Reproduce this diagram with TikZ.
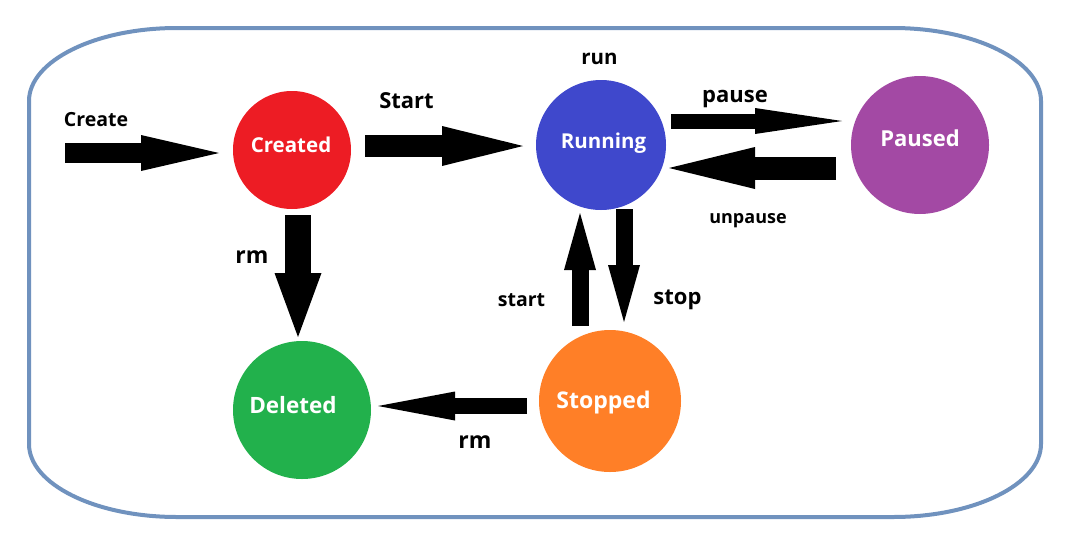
\documentclass[tikz,border=0pt]{standalone}
\usepackage{fontspec}
\setmainfont{Open Sans}
\usepackage{tikz}
\usetikzlibrary{arrows.meta}
\definecolor{cred}{RGB}{237,28,36}
\definecolor{cblue}{RGB}{63,72,204}
\definecolor{cpurple}{RGB}{163,73,164}
\definecolor{cgreen}{RGB}{34,177,76}
\definecolor{corange}{RGB}{255,127,39}
\definecolor{cframe}{RGB}{112,146,190}
\newcommand{\fsz}[1]{\fontsize{#1}{#1}\selectfont\bfseries}

\begin{document}
\begin{tikzpicture}[x=1pt,y=-1pt,
    state/.style={circle, fill=#1, inner sep=0pt, outer sep=0pt},
    statetext/.style={inner sep=0pt, text=white},
    lbl/.style={anchor=base, inner sep=0pt},
    blk/.style n args={3}{line width=#1pt, -{Triangle[length=#3pt, width=#2pt, line width=0pt]}}]
   \useasboundingbox (0,0) rectangle (1086,541);
   % frame
   \draw[cframe, line width=4pt] (177,28) -- (893,28) .. controls (975,28) and (1041,61) .. (1041,101)
        -- (1041,444) .. controls (1041,484) and (975,517) .. (893,517)
        -- (177,517) .. controls (95,517) and (29,484) .. (29,444)
        -- (29,101) .. controls (29,61) and (95,28) .. (177,28) -- cycle;
   \node[state=cred, minimum size=118pt,
         label={[statetext, font=\fsz{20.5}, xshift=-1pt, yshift=5pt]center:Created}] (created) at (292,150) {};
   \node[state=cblue, minimum size=130pt,
         label={[statetext, font=\fsz{20.5}, xshift=2.5pt, yshift=1.5pt]center:Running}] (running) at (601,145) {};
   \node[state=cpurple, minimum size=138pt,
         label={[statetext, font=\fsz{22}, yshift=6.5pt]center:Paused}] (paused) at (920,145) {};
   \node[state=cgreen, minimum size=138pt,
         label={[statetext, font=\fsz{22.5}, xshift=-9pt, yshift=4.5pt]center:Deleted}] (deleted) at (302,410) {};
   \node[state=corange, minimum size=142pt,
         label={[statetext, font=\fsz{23}, xshift=-6.5pt, yshift=-2pt]center:Stopped}] (stopped) at (610,401) {};
   \coordinate (begin) at (65,153);
   \draw[blk={20}{36}{78}] (begin) -- ([xshift=-14pt,yshift=-3pt]created.west);
   \draw[blk={22}{40}{81}] ([xshift=14pt,yshift=4pt]created.east) -- ([xshift=-13pt,yshift=-1pt]running.west);
   \draw[blk={15}{26}{87}] ([xshift=5pt,yshift=24pt]running.east) -- ([xshift=-9pt,yshift=24pt]paused.west);
   \draw[blk={23}{42}{86}] ([xshift=-15pt,yshift=-23pt]paused.west) -- ([xshift=3pt,yshift=-23pt]running.east);
   \draw[blk={26}{47}{64}] ([xshift=6pt,yshift=-6pt]created.south) -- ([xshift=-4pt,yshift=4pt]deleted.north);
   \draw[blk={17}{32}{57}] ([xshift=-30pt,yshift=4pt]stopped.north) -- ([xshift=-21pt,yshift=-3pt]running.south);
   \draw[blk={17}{32}{57}] ([xshift=23pt,yshift=1pt]running.south) -- ([xshift=14pt,yshift=8pt]stopped.north);
   \draw[blk={16}{29}{77}] ([xshift=-12pt,yshift=-5pt]stopped.west) -- ([xshift=7pt,yshift=4pt]deleted.east);
   % labels
   \foreach \n/\x/\y/\s/\t in {create/96/126/19.5/Create, start/406.5/108/22/Start, run/599.5/64/20.5/run,
        pause/735/102/22/pause, unpause/748/223/18/unpause, rm/252/263/23/rm,
        startb/521.5/306/19.5/start, stop/677.5/304/22/stop, rmb/475/448/23/rm}
     \node[lbl, font=\fsz{\s}] (l\n) at (\x,\y) {\t};
\end{tikzpicture}
\end{document}
